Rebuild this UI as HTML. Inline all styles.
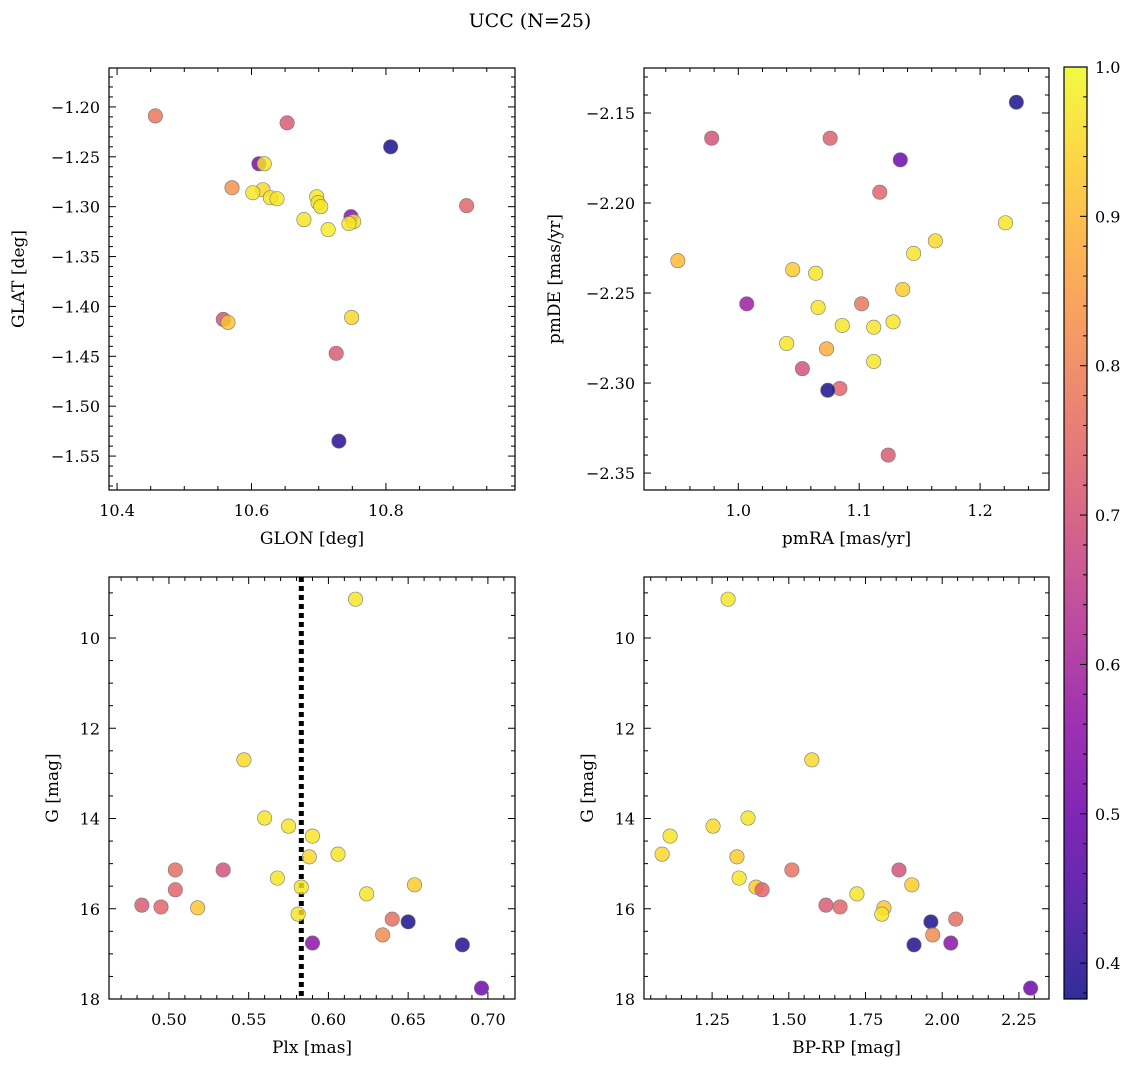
<!DOCTYPE html>
<html><head><meta charset="utf-8">
<style>
html,body{margin:0;padding:0;background:#fff;}
svg{display:block;font-family:"DejaVu Serif","Liberation Serif",serif;}
</style></head>
<body>
<svg id="fig" width="1136" height="1067" viewBox="0 0 1136 1067" xmlns="http://www.w3.org/2000/svg">
<defs>
<linearGradient id="cbgrad" x1="0" y1="1" x2="0" y2="0"></linearGradient>
</defs>
<text x="530" y="27" font-size="19" text-anchor="middle">UCC (N=25)</text>
</svg>
<script>
// ---- data ----
const tlLon=[10.457,10.653,10.807,10.611,10.619,10.571,10.617,10.602,10.628,10.638,10.697,10.699,10.703,10.678,10.714,10.748,10.752,10.745,10.920,10.558,10.565,10.749,10.726,10.730];
const tlLat=[-1.209,-1.216,-1.240,-1.257,-1.257,-1.281,-1.283,-1.286,-1.291,-1.292,-1.290,-1.296,-1.300,-1.313,-1.323,-1.310,-1.315,-1.317,-1.299,-1.413,-1.416,-1.411,-1.447,-1.535];
const tlC=[0.78,0.72,0.38,0.52,0.97,0.83,0.95,0.97,0.97,0.97,0.97,0.97,0.97,0.97,0.98,0.55,0.97,0.97,0.74,0.70,0.92,0.95,0.72,0.40];
const trRA=[1.230,0.978,1.076,1.134,1.117,1.221,1.163,1.145,0.950,1.045,1.064,1.136,1.007,1.102,1.066,1.128,1.086,1.112,1.040,1.073,1.112,1.053,1.084,1.074,1.124];
const trDE=[-2.144,-2.164,-2.164,-2.176,-2.194,-2.211,-2.221,-2.228,-2.232,-2.237,-2.239,-2.248,-2.256,-2.256,-2.258,-2.266,-2.268,-2.269,-2.278,-2.281,-2.288,-2.292,-2.303,-2.304,-2.340];
const trC=[0.38,0.70,0.73,0.50,0.74,0.97,0.95,0.97,0.90,0.93,0.97,0.93,0.58,0.78,0.97,0.97,0.97,0.97,0.97,0.88,0.97,0.70,0.74,0.38,0.72];
const blPlx=[0.617,0.547,0.560,0.575,0.590,0.606,0.588,0.504,0.534,0.568,0.654,0.583,0.504,0.624,0.483,0.495,0.518,0.581,0.640,0.650,0.634,0.590,0.684,0.696];
const brCol=[1.302,1.575,1.367,1.253,1.113,1.087,1.331,1.510,1.859,1.338,1.901,1.393,1.413,1.722,1.621,1.667,1.810,1.803,2.044,1.963,1.969,2.028,1.908,2.288];
const gMag=[9.14,12.70,13.99,14.17,14.39,14.79,14.85,15.14,15.14,15.32,15.47,15.52,15.58,15.67,15.92,15.96,15.98,16.12,16.23,16.29,16.58,16.76,16.80,17.76];
const blC=[0.97,0.95,0.97,0.97,0.97,0.97,0.95,0.76,0.70,0.97,0.93,0.97,0.74,0.97,0.72,0.74,0.92,0.97,0.76,0.38,0.82,0.55,0.39,0.50];
const brC=[0.97,0.95,0.97,0.95,0.97,0.95,0.93,0.77,0.70,0.97,0.93,0.93,0.74,0.97,0.72,0.74,0.92,0.97,0.76,0.38,0.82,0.55,0.39,0.50];
const plxLine=0.583;
const tlXTicks=[10.4,10.6,10.8], tlYTicks=[-1.20,-1.25,-1.30,-1.35,-1.40,-1.45,-1.50,-1.55];
const trXTicks=[1.0,1.1,1.2], trYTicks=[-2.15,-2.20,-2.25,-2.30,-2.35];
const blXTicks=[0.50,0.55,0.60,0.65,0.70], gTicks=[10,12,14,16,18];
const brXTicks=[1.25,1.50,1.75,2.00,2.25];
const cbTicks=[0.4,0.5,0.6,0.7,0.8,0.9,1.0];

const NS='http://www.w3.org/2000/svg';
const svg=document.getElementById('fig');
function mk(tag,attrs,parent){const e=document.createElementNS(NS,tag);for(const k in attrs)e.setAttribute(k,attrs[k]);(parent||svg).appendChild(e);return e;}
const plasma=[[13,8,135],[65,4,157],[106,0,168],[143,13,164],[177,42,144],[204,71,120],[225,100,98],[242,132,75],[252,166,54],[252,206,37],[240,249,33]];
const VMIN=0.376,VMAX=1.0;
function cmap(v){let t=(v-VMIN)/(VMAX-VMIN);t=Math.max(0,Math.min(1,t))*10;const i=Math.min(9,Math.floor(t)),f=t-i;const a=plasma[i],b=plasma[i+1];return 'rgb('+a.map((c,k)=>Math.round(c+(b[k]-c)*f)).join(',')+')';}

function panel(o){
  const g=mk('g',{});
  
  
  const sx=v=>o.x0+(v-o.xmin)/(o.xmax-o.xmin)*(o.x1-o.x0);
  const sy=o.yinv? v=>o.y0+(v-o.ymin)/(o.ymax-o.ymin)*(o.y1-o.y0) : v=>o.y1-(v-o.ymin)/(o.ymax-o.ymin)*(o.y1-o.y0);
  // ticks
  function ticks(axis,major,minorStep,labels){
    const lo=axis=='x'?o.xmin:o.ymin, hi=axis=='x'?o.xmax:o.ymax;
    for(let v=Math.ceil(lo/minorStep-1e-6)*minorStep; v<=hi+1e-9; v+=minorStep){
      const isMaj=major.some(m=>Math.abs(m-v)<minorStep/10);
      const L=isMaj?7:4;
      if(axis=='x'){const p=sx(v);
        const t1=mk('line',{x1:p,x2:p,y1:o.y1,y2:o.y1-L,stroke:'#000','stroke-width':1},g);
        
        mk('line',{x1:p,x2:p,y1:o.y0,y2:o.y0+L,stroke:'#000','stroke-width':1},g);
      } else {const p=sy(v);
        const t1=mk('line',{x1:o.x0,x2:o.x0+L,y1:p,y2:p,stroke:'#000','stroke-width':1},g);
        
        mk('line',{x1:o.x1,x2:o.x1-L,y1:p,y2:p,stroke:'#000','stroke-width':1},g);
      }
    }
    major.forEach(m=>{
      const s=o.fmt?o.fmt(axis,m):String(m);
      let t;
      if(axis=='x') t=mk('text',{x:sx(m),y:o.y1+26,'font-size':16,'text-anchor':'middle'},g);
      else t=mk('text',{x:o.x0-9,y:sy(m)+6,'font-size':16,'text-anchor':'end'},g);
      
      
      t.textContent=s.replace('-','\u2212');
    });
  }
  ticks('x',o.xt,o.xminor);
  ticks('y',o.yt,o.yminor);
  if(o.vline!==undefined){
    const l=mk('line',{x1:sx(o.vline),x2:sx(o.vline),y1:o.y0,y2:o.y1,stroke:'#000','stroke-width':5,'stroke-dasharray':'5,4'},g);
    
    
  }
  o.xs.forEach((xv,i)=>{
    const c=mk('circle',{cx:sx(xv),cy:sy(o.ys[i]),r:7.2,fill:cmap(o.cs[i]),'fill-opacity':0.82,stroke:'#777','stroke-width':0.6},g);
    
    
  });
  const fr=mk('rect',{x:o.x0,y:o.y0,width:o.x1-o.x0,height:o.y1-o.y0,fill:'none',stroke:'#000','stroke-width':1.2},g);
  
  
  const xl=mk('text',{x:(o.x0+o.x1)/2,y:o.y1+54,'font-size':17,'text-anchor':'middle'},g);
  
  
  xl.textContent=o.xlabel;
  const yc=(o.y0+o.y1)/2;
  const yl=mk('text',{x:o.ylx,y:yc,'font-size':17,'text-anchor':'middle',transform:'rotate(-90 '+o.ylx+' '+yc+')'},g);
  
  
  yl.textContent=o.ylabel;
}
const f2=(a,v)=>v.toFixed(2), f1=(a,v)=>v.toFixed(1);
panel({name:'glon-glat-panel',x0:109,x1:515,y0:68,y1:490,xmin:10.388,xmax:10.992,ymin:-1.584,ymax:-1.161,xt:tlXTicks,yt:tlYTicks,xminor:0.05,yminor:0.01,xs:tlLon,ys:tlLat,cs:tlC,xlabel:'GLON [deg]',ylabel:'GLAT [deg]',ylx:24,fmt:(a,v)=>a=='x'?v.toFixed(1):v.toFixed(2)});
panel({name:'proper-motion-panel',x0:644,x1:1049,y0:68,y1:490,xmin:0.922,xmax:1.257,ymin:-2.3594,ymax:-2.125,xt:trXTicks,yt:trYTicks,xminor:0.02,yminor:0.01,xs:trRA,ys:trDE,cs:trC,xlabel:'pmRA [mas/yr]',ylabel:'pmDE [mas/yr]',ylx:560,fmt:(a,v)=>a=='x'?v.toFixed(1):v.toFixed(2)});
panel({name:'parallax-mag-panel',x0:109,x1:515,y0:577,y1:999,xmin:0.4624,xmax:0.717,ymin:8.648,ymax:18,yinv:true,xt:blXTicks,yt:gTicks,xminor:0.01,yminor:0.5,xs:blPlx,ys:gMag,cs:blC,xlabel:'Plx [mas]',ylabel:'G [mag]',ylx:58,vline:plxLine,fmt:(a,v)=>a=='x'?v.toFixed(2):String(v)});
panel({name:'cmd-panel',x0:644,x1:1049,y0:577,y1:999,xmin:1.028,xmax:2.348,ymin:8.648,ymax:18,yinv:true,xt:brXTicks,yt:gTicks,xminor:0.05,yminor:0.5,xs:brCol,ys:gMag,cs:brC,xlabel:'BP-RP [mag]',ylabel:'G [mag]',ylx:593,fmt:(a,v)=>a=='x'?v.toFixed(2):String(v)});

// colorbar
const grad=document.getElementById('cbgrad');
for(let k=0;k<=20;k++){const v=VMIN+(VMAX-VMIN)*k/20;mk('stop',{offset:(k/20),'stop-color':cmap(v),'stop-opacity':0.85},grad);}
const cb=mk('g',{});


const cy0=67,cy1=999,cx0=1064,cx1=1087;
const cyv=v=>cy1-(v-VMIN)/(VMAX-VMIN)*(cy1-cy0);
mk('rect',{x:cx0,y:cy0,width:cx1-cx0,height:cy1-cy0,fill:'url(#cbgrad)',stroke:'#000','stroke-width':1.2},cb);
for(let v=0.38;v<=1.0001;v+=0.02){const isM=cbTicks.some(m=>Math.abs(m-v)<0.002);mk('line',{x1:cx1,x2:cx1-(isM?7:4),y1:cyv(v),y2:cyv(v),stroke:'#000','stroke-width':1},cb);}
cbTicks.forEach(m=>{const t=mk('text',{x:cx1+8,y:cyv(m)+6,'font-size':16},cb);


t.textContent=m.toFixed(1);});
</script>
</body></html>
